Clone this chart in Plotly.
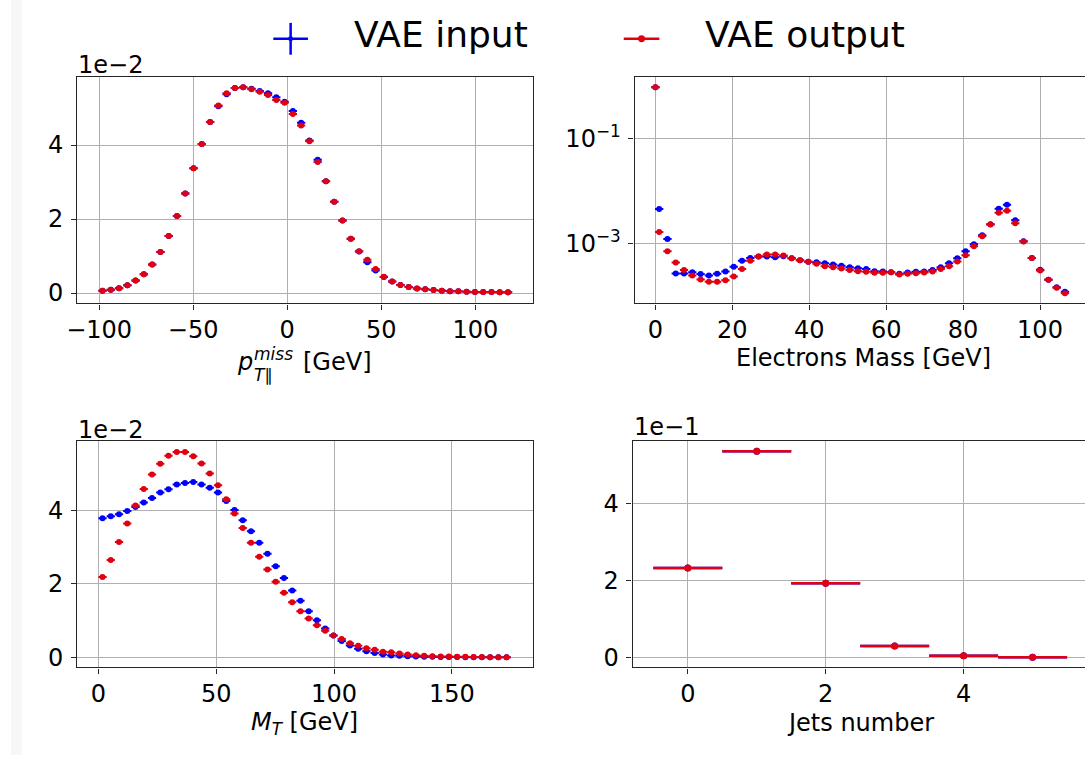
import plotly.graph_objects as go

# ---------------- data ----------------
# p_T parallel miss (values in units of 1e-2)
pt_x = [-98.2, -93.8, -89.4, -85.0, -80.6, -76.2, -71.8, -67.4, -63.0, -58.6,
        -54.2, -49.8, -45.4, -41.0, -36.6, -32.2, -27.8, -23.4, -19.0, -14.6,
        -10.2, -5.8, -1.4, 3.0, 7.4, 11.8, 16.2, 20.6, 25.0, 29.4,
        33.8, 38.2, 42.6, 47.0, 51.4, 55.8, 60.2, 64.6, 69.0, 73.4,
        77.8, 82.2, 86.6, 91.0, 95.4, 99.8, 104.2, 108.6, 113.0, 117.4]
pt_input = [0.06, 0.09, 0.13, 0.21, 0.34, 0.51, 0.77, 1.11, 1.54, 2.08,
            2.69, 3.37, 4.03, 4.62, 5.05, 5.37, 5.54, 5.56, 5.52, 5.46,
            5.40, 5.29, 5.17, 4.92, 4.60, 4.12, 3.60, 3.02, 2.47, 1.96,
            1.47, 1.12, 0.83, 0.61, 0.43, 0.31, 0.22, 0.16, 0.125, 0.10,
            0.08, 0.06, 0.05, 0.045, 0.036, 0.03, 0.027, 0.025, 0.02, 0.018]
pt_output = [0.06, 0.09, 0.13, 0.21, 0.34, 0.51, 0.77, 1.11, 1.54, 2.08,
             2.69, 3.37, 4.03, 4.62, 5.07, 5.40, 5.54, 5.56, 5.51, 5.44,
             5.35, 5.22, 5.14, 4.84, 4.53, 4.10, 3.54, 3.02, 2.47, 1.96,
             1.47, 1.13, 0.90, 0.65, 0.44, 0.31, 0.22, 0.16, 0.125, 0.10,
             0.08, 0.06, 0.05, 0.045, 0.036, 0.03, 0.027, 0.025, 0.02, 0.018]
pt_half = 2.2

# Electrons mass (log scale)
mass_x = [0.0, 0.98, 3.13, 5.29, 7.44, 9.59, 11.75, 13.90, 16.05, 18.21, 20.36,
          22.51, 24.67, 26.82, 28.97, 31.13, 33.28, 35.43, 37.59, 39.74, 41.89,
          44.05, 46.20, 48.35, 50.51, 52.66, 54.81, 56.97, 59.12, 61.27, 63.43,
          65.58, 67.73, 69.89, 72.04, 74.19, 76.35, 78.50, 80.65, 82.81, 84.96,
          87.11, 89.27, 91.42, 93.57, 95.73, 97.88, 100.03, 102.19, 104.34, 106.49]
mass_input = [0.95, 4.59e-3, 1.245e-3, 2.74e-4, 2.74e-4, 2.91e-4, 2.67e-4, 2.52e-4,
              2.70e-4, 2.99e-4, 3.67e-4, 4.77e-4, 5.43e-4, 5.76e-4, 5.76e-4, 5.60e-4,
              5.85e-4, 5.36e-4, 4.91e-4, 4.56e-4, 4.50e-4, 4.31e-4, 4.06e-4, 3.83e-4,
              3.61e-4, 3.46e-4, 3.32e-4, 3.04e-4, 2.99e-4, 2.91e-4, 2.70e-4, 2.86e-4,
              2.95e-4, 2.99e-4, 3.18e-4, 3.61e-4, 4.31e-4, 5.36e-4, 7.27e-4, 9.87e-4,
              1.46e-3, 2.36e-3, 4.67e-3, 5.55e-3, 2.81e-3, 1.12e-3, 5.43e-4, 3.22e-4,
              2.08e-4, 1.51e-4, 1.23e-4]
mass_output = [0.95, 1.69e-3, 7.27e-4, 4.43e-4, 3.18e-4, 2.52e-4, 2.11e-4, 1.91e-4,
               1.91e-4, 2.05e-4, 2.41e-4, 3.32e-4, 4.77e-4, 5.76e-4, 6.28e-4, 6.28e-4,
               6.01e-4, 5.36e-4, 4.91e-4, 4.56e-4, 4.18e-4, 3.78e-4, 3.61e-4, 3.41e-4,
               3.18e-4, 3.04e-4, 2.95e-4, 2.82e-4, 2.82e-4, 2.91e-4, 2.63e-4, 2.70e-4,
               2.78e-4, 2.86e-4, 2.99e-4, 3.32e-4, 3.78e-4, 4.63e-4, 6.10e-4, 9.04e-4,
               1.40e-3, 2.33e-3, 3.92e-3, 4.28e-3, 2.46e-3, 1.11e-3, 5.43e-4, 3.13e-4,
               2.08e-4, 1.47e-4, 1.16e-4]
mass_half = 1.08

# M_T (values in units of 1e-2)
mt_x = [1.75, 5.25, 8.75, 12.25, 15.75, 19.25, 22.75, 26.25, 29.75, 33.25,
        36.75, 40.25, 43.75, 47.25, 50.75, 54.25, 57.75, 61.25, 64.75, 68.25,
        71.75, 75.25, 78.75, 82.25, 85.75, 89.25, 92.75, 96.25, 99.75, 103.25,
        106.75, 110.25, 113.75, 117.25, 120.75, 124.25, 127.75, 131.25, 134.75, 138.25,
        141.75, 145.25, 148.75, 152.25, 155.75, 159.25, 162.75, 166.25, 169.75, 173.25]
mt_input = [3.78, 3.84, 3.89, 3.98, 4.09, 4.21, 4.33, 4.48, 4.57, 4.70,
            4.74, 4.77, 4.70, 4.61, 4.48, 4.25, 4.01, 3.73, 3.43, 3.12,
            2.82, 2.48, 2.16, 1.82, 1.54, 1.26, 1.01, 0.79, 0.60, 0.45,
            0.33, 0.24, 0.17, 0.12, 0.08, 0.054, 0.045, 0.036, 0.027, 0.022,
            0.018, 0.016, 0.014, 0.012, 0.01, 0.009, 0.008, 0.007, 0.006, 0.005]
mt_output = [2.19, 2.65, 3.14, 3.64, 4.13, 4.58, 4.97, 5.26, 5.48, 5.58,
             5.58, 5.47, 5.27, 5.00, 4.68, 4.30, 3.91, 3.52, 3.12, 2.74,
             2.39, 2.06, 1.76, 1.50, 1.26, 1.06, 0.88, 0.73, 0.60, 0.50,
             0.39, 0.32, 0.25, 0.21, 0.16, 0.14, 0.11, 0.08, 0.063, 0.045,
             0.036, 0.027, 0.027, 0.018, 0.018, 0.012, 0.012, 0.008, 0.006, 0.005]
mt_half = 1.75

# Jets number (values in units of 1e-1)
jets_x = [0, 1, 2, 3, 4, 5]
jets_input = [2.33, 5.37, 1.93, 0.30, 0.043, 0.008]
jets_output = [2.33, 5.37, 1.93, 0.30, 0.043, 0.008]
jets_half = 0.5

# ---------------- style / layout helpers ----------------
W, H = 1085, 759
FONT = "DejaVu Sans"
BLUE = "#0000ff"
RED = "#e00010"
SPINE = "#262626"


def fx(px):
    return px / W


def fy(py):
    return 1 - py / H


fig = go.Figure()


def add_pair(x, yin, yout, half, xa, ya, msize=6, thick=2):
    for y, c in ((yin, BLUE), (yout, RED)):
        fig.add_trace(go.Scatter(
            x=x, y=y, mode="markers", xaxis=xa, yaxis=ya,
            marker=dict(color=c, size=msize, line=dict(width=0)),
            error_x=dict(type="constant", value=half, color=c,
                         thickness=thick, width=0),
            showlegend=False, hoverinfo="skip"))


add_pair(pt_x, pt_input, pt_output, pt_half, "x", "y")
add_pair(mass_x, mass_input, mass_output, mass_half, "x2", "y2")
add_pair(mt_x, mt_input, mt_output, mt_half, "x3", "y3")
add_pair(jets_x, jets_input, jets_output, jets_half, "x4", "y4", msize=7, thick=2.5)

common = dict(showline=True, linecolor=SPINE, linewidth=1.3,
              ticks="outside", ticklen=5, tickwidth=1.2, tickcolor=SPINE,
              showgrid=True, gridcolor="#b0b0b0", gridwidth=1, zeroline=False,
              tickfont=dict(family=FONT, size=24, color="black"))
xcommon = dict(common)
ycommon = dict(common, ticklabelstandoff=3)

top = [fy(305), fy(77)]
bot = [fy(671), fy(443)]

fig.update_layout(
    width=W, height=H, autosize=False,
    margin=dict(l=0, r=0, t=0, b=0),
    paper_bgcolor="white", plot_bgcolor="white",
    showlegend=False,
    xaxis=dict(domain=[fx(67), fx(527)], anchor="y", range=[-111.6, 130.5],
               tickvals=[-100, -50, 0, 50, 100],
               ticktext=["\u2212100", "\u221250", "0", "50", "100"],
               mirror=True, **xcommon),
    yaxis=dict(domain=top, anchor="x", range=[-0.28, 5.85],
               tickvals=[0, 2, 4], mirror=True, **ycommon),
    xaxis2=dict(domain=[fx(630), 1.0], anchor="y2", range=[-5.41, 111.7],
                tickvals=[0, 20, 40, 60, 80, 100], mirror=True, **xcommon),
    yaxis2=dict(domain=top, anchor="x2", type="log", range=[-4.13, 0.18],
                tickvals=[1e-1, 1e-3],
                ticktext=["10<sup>\u22121</sup>", "10<sup>\u22123</sup>"],
                mirror=False, **ycommon),
    xaxis3=dict(domain=[fx(67), fx(527)], anchor="y3", range=[-8.95, 184.3],
                tickvals=[0, 50, 100, 150], mirror=True, **xcommon),
    yaxis3=dict(domain=bot, anchor="x3", range=[-0.27, 5.89],
                tickvals=[0, 2, 4], mirror=True, **ycommon),
    xaxis4=dict(domain=[fx(628), 1.0], anchor="y4", range=[-0.80, 5.76],
                tickvals=[0, 2, 4], mirror=True, **xcommon),
    yaxis4=dict(domain=bot, anchor="x4", range=[-0.26, 5.645],
                tickvals=[0, 2, 4], mirror=False, **ycommon),
)

ann = []


def text(s, x, y, size=24, xanchor="left", yanchor="middle"):
    ann.append(dict(text=s, x=fx(x), y=fy(y), xref="paper", yref="paper",
                    xanchor=xanchor, yanchor=yanchor, showarrow=False,
                    font=dict(family=FONT, size=size, color="black")))


# offset texts
text("1e\u22122", 66, 65)
text("1e\u22122", 66, 432)
text("1e\u22121", 627, 429)

# axis labels
text("<i>p</i>", 226, 364)
text("<i>miss</i>", 243, 356, size=17)
text("<i>T</i>\u2225", 243, 377, size=17)
text("[GeV]", 293, 364)
text("Electrons Mass [GeV]", 861, 360, xanchor="center")
text("<i>M</i><sub><i>T</i></sub> [GeV]", 297, 727, xanchor="center")
text("Jets number", 858, 727, xanchor="center")

# legend texts
text("VAE input", 344, 35, size=36)
text("VAE output", 699, 35, size=36)

fig.update_layout(annotations=ann)

shapes = [
    # very light gray strip at the left edge
    dict(type="rect", xref="paper", yref="paper", x0=0, x1=fx(11), y0=0, y1=1,
         fillcolor="#f7f7f7", line=dict(width=0), layer="below"),
    # legend handle: blue cross
    dict(type="line", xref="paper", yref="paper", x0=fx(265), x1=fx(300),
         y0=fy(39), y1=fy(39), line=dict(color=BLUE, width=2.5)),
    dict(type="line", xref="paper", yref="paper", x0=fx(282.5), x1=fx(282.5),
         y0=fy(23), y1=fy(55), line=dict(color=BLUE, width=2.5)),
    dict(type="circle", xref="paper", yref="paper", x0=fx(280), x1=fx(285),
         y0=fy(41.5), y1=fy(36.5), fillcolor=BLUE, line=dict(width=0)),
    # legend handle: red line with dot
    dict(type="line", xref="paper", yref="paper", x0=fx(619), x1=fx(655),
         y0=fy(39), y1=fy(39), line=dict(color=RED, width=2.5)),
    dict(type="circle", xref="paper", yref="paper", x0=fx(633.5), x1=fx(640.5),
         y0=fy(42.5), y1=fy(35.5), fillcolor=RED, line=dict(width=0)),
]
fig.update_layout(shapes=shapes)

fig.write_html("out.html")
